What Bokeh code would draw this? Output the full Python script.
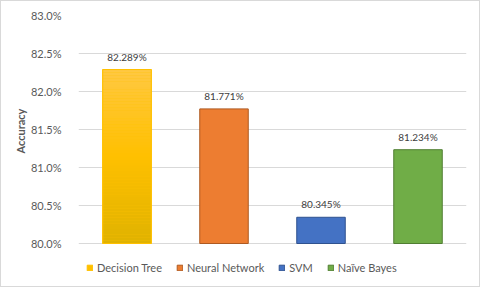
import numpy as np
from bokeh.plotting import figure
from bokeh.models import (ColumnDataSource, FixedTicker, PrintfTickFormatter, Legend,
                          LegendItem, Title)
from bokeh.embed import file_html
from bokeh.resources import INLINE
from bokeh.core.properties import value

categories = ["Decision Tree", "Neural Network", "SVM", "Naïve Bayes"]
accuracy = [82.289, 81.771, 80.345, 81.234]
labels = ["82.289%", "81.771%", "80.345%", "81.234%"]
fill_colors = ["#FFC000", "#ED7D31", "#4472C4", "#70AD47"]
line_colors = ["#FFC000", "#AE5A21", "#2F528F", "#507E32"]
y_ticks = [80.0, 80.5, 81.0, 81.5, 82.0, 82.5, 83.0]
y_min, y_max = 80.0, 83.0

FONT = "Lato"
W, H = 480, 287
TOP, LEFT, RIGHT = 14, 77, 15
AXIS_BOTTOM_PX = 242          # pixel row of the 80.0% line
FRAME_BOTTOM_PX = 275         # frame extends below it to host the legend
px_per_unit = (AXIS_BOTTOM_PX - TOP) / (y_max - y_min)
y_start = y_min - (FRAME_BOTTOM_PX - AXIS_BOTTOM_PX) / px_per_unit

p = figure(width=W, height=H, x_range=categories, y_range=(y_start, y_max),
           output_backend="svg", toolbar_location=None,
           min_border_left=LEFT, min_border_right=RIGHT, min_border_top=TOP,
           min_border_bottom=H - FRAME_BOTTOM_PX)
p.styles = {"border": "1px solid #D9D9D9"}
p.outline_line_color = None
p.background_fill_color = "white"
p.border_fill_color = "white"

src = ColumnDataSource(dict(cat=categories, val=accuracy, fill=fill_colors,
                            line=line_colors, lab=labels))

bars = p.vbar(x="cat", top="val", bottom=y_min, width=0.5, source=src,
              fill_color="fill", line_color="line", line_width=1)

# gradient overlay for the first bar
n = 60
edges = np.linspace(y_min, accuracy[0], n + 1)
stops_t = [0.0, 0.5, 1.0]
stops_c = [(0xDF, 0xB2, 0x00), (0xFF, 0xC0, 0x00), (0xFF, 0xC8, 0x42)]
cols = []
for i in range(n):
    t = (i + 0.5) / n
    c = [int(round(np.interp(t, stops_t, [s[k] for s in stops_c]))) for k in range(3)]
    cols.append("#%02X%02X%02X" % tuple(c))
gsrc = ColumnDataSource(dict(x=[categories[0]] * n, b=edges[:-1], t=edges[1:], c=cols))
p.vbar(x="x", bottom="b", top="t", width=0.5, source=gsrc, fill_color="c", line_color=None)
osrc = ColumnDataSource(dict(x=[categories[0]], t=[accuracy[0]]))
p.vbar(x="x", bottom=y_min, top="t", width=0.5, source=osrc, fill_alpha=0,
       line_color="#FFC000", line_width=1)

p.text(x="cat", y="val", text="lab", source=src, text_align="center",
       text_baseline="bottom", y_offset=-7, text_font=value(FONT),
       text_font_size="10px", text_color="#404040")

p.xaxis.visible = False
p.xgrid.grid_line_color = None
p.ygrid.grid_line_color = "#D9D9D9"
p.ygrid.ticker = FixedTicker(ticks=y_ticks)

ya = p.yaxis[0]
ya.ticker = FixedTicker(ticks=y_ticks)
ya.formatter = PrintfTickFormatter(format="%.1f%%")
ya.axis_line_color = None
ya.major_tick_line_color = None
ya.minor_tick_line_color = None
ya.major_label_standoff = 11
ya.major_label_text_font = FONT
ya.major_label_text_font_size = "11px"
ya.major_label_text_color = "#595959"

ytitle = Title(text="Accuracy", align="left", offset=123, standoff=2,
               text_font=FONT, text_font_size="11px", text_font_style="bold",
               text_color="#595959")
p.add_layout(ytitle, "left")

legend = Legend(items=[LegendItem(label=value(c), renderers=[bars], index=i)
                       for i, c in enumerate(categories)],
                orientation="horizontal", location=(8, 2),
                glyph_width=7, glyph_height=7, label_standoff=4, spacing=14,
                padding=0, margin=0, border_line_color=None, background_fill_alpha=0,
                label_text_font=FONT, label_text_font_size="11px",
                label_text_color="#595959", label_height=12)
p.add_layout(legend, "center")

open("out.html", "w").write(file_html(p, INLINE))
